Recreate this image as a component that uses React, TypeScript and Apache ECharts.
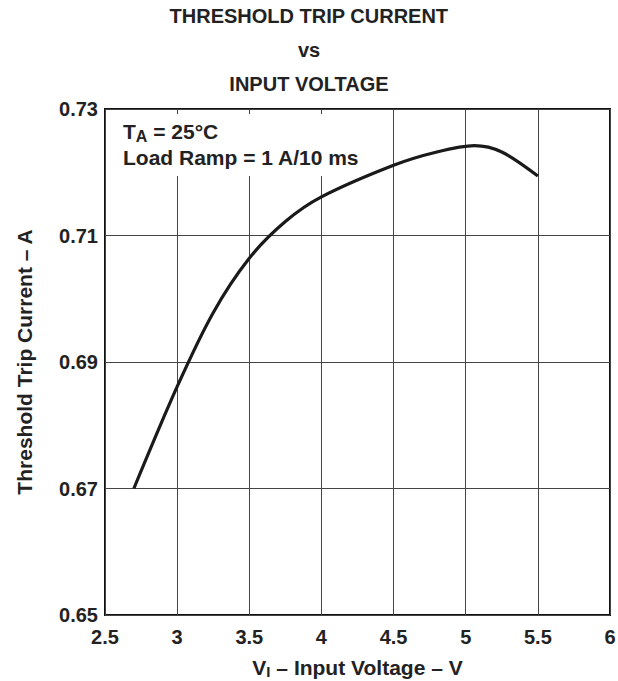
import React, { useEffect, useRef } from "react";
import * as echarts from "echarts";

const voltage = [2.7, 3.0, 3.25, 3.5, 3.75, 4.0, 4.5, 4.8, 5.06, 5.25, 5.5];
const tripCurrent = [0.67, 0.6861, 0.6978, 0.7064, 0.7122, 0.7161, 0.7211, 0.7232, 0.7242, 0.7232, 0.7194];
const titleLines = ["THRESHOLD TRIP CURRENT", "vs", "INPUT VOLTAGE"];

const FONT = "Liberation Sans, Arial, Helvetica, sans-serif";

export default function App() {
  const ref = useRef<HTMLDivElement>(null);
  useEffect(() => {
    if (!ref.current) return;
    const chart = echarts.init(ref.current, undefined, { renderer: "svg" });
    const data = voltage.map((v, i) => [v, tripCurrent[i]]);
    chart.setOption({
      animation: false,
      backgroundColor: "#fff",
      grid: {
        left: 105, right: 8, top: 109, bottom: 66,
        containLabel: false,
        outerBoundsMode: "none",
        show: true, borderColor: "#111", borderWidth: 2, backgroundColor: "transparent",
      },
      xAxis: {
        type: "value",
        min: 2.5,
        max: 6,
        interval: 0.5,
        axisLine: { show: false },
        axisTick: { show: false },
        splitLine: { show: true, lineStyle: { color: "#444", width: 1 } },
        axisLabel: {
          color: "#222",
          fontFamily: FONT,
          fontWeight: "bold",
          fontSize: 20,
          margin: 12,
          formatter: (v: number) => String(parseFloat(v.toFixed(2))),
        },
        name: "{n|V}{s|I}{n| – Input Voltage – V}",
        nameLocation: "middle",
        nameGap: 40,
        nameTextStyle: {
          rich: {
            n: { fontFamily: FONT, fontWeight: "bold", fontSize: 21, color: "#222", lineHeight: 24 },
            s: { fontFamily: FONT, fontWeight: "bold", fontSize: 15, color: "#222", verticalAlign: "bottom", padding: [6, 0, 0, 0], lineHeight: 18 },
          },
        },
      },
      yAxis: {
        type: "value",
        min: 0.65,
        max: 0.73,
        interval: 0.02,
        axisLine: { show: false },
        axisTick: { show: false },
        splitLine: { show: true, lineStyle: { color: "#444", width: 1 } },
        axisLabel: {
          color: "#222",
          fontFamily: FONT,
          fontWeight: "bold",
          fontSize: 20,
          margin: 7,
          formatter: (v: number) => v.toFixed(2),
        },
        name: "Threshold Trip Current – A",
        nameLocation: "middle",
        nameRotate: 90,
        nameGap: 70,
        nameTextStyle: { fontFamily: FONT, fontWeight: "bold", fontSize: 21, color: "#222" },
      },
      graphic: [
        ...titleLines.map((t, i) => ({
          type: "text",
          left: "center",
          top: 6 + i * 34,
          style: { text: t, fontFamily: FONT, fontWeight: "bold", fontSize: 20, fill: "#222" },
        })),
        {
          type: "rect",
          shape: { x: 107, y: 114, width: 263, height: 62 },
          style: { fill: "#fff" },
          z: 1,
        },
        {
          type: "text",
          x: 123,
          y: 118,
          z: 11,
          style: {
            text: "{n|T}{s|A}{n| = 25°C}\n{n|Load Ramp = 1 A/10 ms}",
            rich: {
              n: { fontFamily: FONT, fontWeight: "bold", fontSize: 21, fill: "#222", lineHeight: 26 },
              s: { fontFamily: FONT, fontWeight: "bold", fontSize: 16, fill: "#222", verticalAlign: "bottom", padding: [9, 0, 0, 0], lineHeight: 26 },
            },
          },
        },
      ],
      series: [
        {
          type: "line",
          data,
          smooth: 0.3,
          showSymbol: false,
          symbol: "none",
          lineStyle: { color: "#1a1a1a", width: 3.2 },
          z: 5,
        },
      ],
    });
    return () => chart.dispose();
  }, []);
  return <div ref={ref} style={{ width: 618, height: 681, position: "absolute", left: 0, top: 0 }} />;
}
